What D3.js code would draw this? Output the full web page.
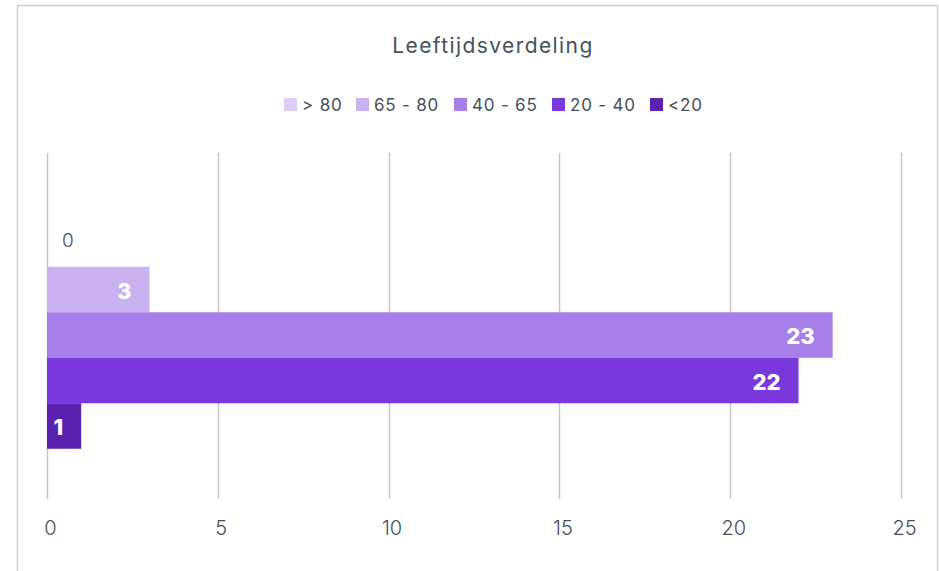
<!DOCTYPE html>
<html>
<head>
<meta charset="utf-8">
<script src="https://cdn.jsdelivr.net/npm/d3@7"></script>
<style>
  body { margin: 0; background: #fff; }
  text { font-family: Inter, "Open Sans", sans-serif; }
</style>
</head>
<body>
<svg id="chart" width="939" height="571"></svg>
<script>
// data
var title = "Leeftijdsverdeling";
var categories = ["Leeftijd"];
var series = ["> 80", "65 - 80", "40 - 65", "20 - 40", "<20"];
var values = [0, 3, 23, 22, 1];
var colors = ["#DCCEF5", "#CAB1F0", "#A77FE8", "#7838DC", "#5B22AF"];
var ticks = [0, 5, 10, 15, 20, 25];

var svg = d3.select("#chart");
var plot = {left: 47, right: 901, top: 153, bottom: 499};
var textColor = "#46505B";

// frame
svg.append("rect")
    .attr("x", 17.5).attr("y", 5.5)
    .attr("width", 920).attr("height", 620)
    .style("fill", "none")
    .style("stroke", "#D0D0D0")
    .style("stroke-width", 1.5);

var x = d3.scaleLinear().domain([0, 25]).range([plot.left, plot.right]);

var yOuter = d3.scaleBand()
    .domain(categories)
    .range([plot.top, 517])
    .paddingOuter(0.3);

var y = d3.scaleBand()
    .domain(series)
    .range([yOuter(categories[0]), yOuter(categories[0]) + yOuter.bandwidth()]);

// gridlines
svg.append("g")
    .selectAll("line")
    .data(ticks)
    .enter()
    .append("line")
    .attr("x1", function(d){ return Math.round(x(d)) + 0.5; })
    .attr("x2", function(d){ return Math.round(x(d)) + 0.5; })
    .attr("y1", plot.top)
    .attr("y2", plot.bottom)
    .style("stroke", "#C6C6C6")
    .style("stroke-width", 1.5);

// x axis labels
var xAxis = d3.axisBottom(x).tickValues(ticks).tickSize(0).tickPadding(0);
var gx = svg.append("g")
    .attr("transform", "translate(0," + 521 + ")")
    .call(xAxis);
gx.select(".domain").remove();
gx.selectAll("text")
    .attr("dx", 3)
    .style("font-size", "20px")
    .style("font-weight", 300)
    .style("font-family", "Inter, sans-serif")
    .style("fill", textColor);

var rows = series.map(function(s, i){
    return {name: s, value: values[i], color: colors[i]};
});

// bars
svg.append("g")
    .selectAll("rect")
    .data(rows)
    .enter()
    .append("rect")
    .attr("x", x(0))
    .attr("y", function(d){ return y(d.name); })
    .attr("width", function(d){ return x(d.value) - x(0); })
    .attr("height", y.bandwidth())
    .style("fill", function(d){ return d.color; });

// value labels
svg.append("g")
    .selectAll("text")
    .data(rows)
    .enter()
    .append("text")
    .attr("x", function(d){
        if(d.value === 0) return x(0) + 15;
        return x(d.value) - 18;
    })
    .attr("y", function(d){
        if(d.value === 0) return y(d.name) + y.bandwidth()/2 - 4;
        return y(d.name) + y.bandwidth()/2 + 1;
    })
    .attr("dominant-baseline", "central")
    .attr("text-anchor", function(d){ return d.value === 0 ? "start" : "end"; })
    .style("font-size", function(d){ return d.value === 0 ? "19px" : "22px"; })
    .style("font-weight", function(d){ return d.value === 0 ? 300 : 800; })
    .style("fill", function(d){ return d.value === 0 ? textColor : "#FFFFFF"; })
    .text(function(d){ return d.value; });

// title
svg.append("text")
    .attr("x", 493)
    .attr("y", 53)
    .attr("text-anchor", "middle")
    .style("font-size", "21px")
    .style("letter-spacing", "1.4px")
    .style("fill", textColor)
    .text(title);

// legend
var legendX = [284, 356, 454, 552, 650];
var legend = svg.append("g")
    .selectAll("g")
    .data(rows)
    .enter()
    .append("g")
    .attr("transform", function(d, i){ return "translate(" + legendX[i] + ",98)"; });
legend.append("rect")
    .attr("width", 13)
    .attr("height", 13)
    .style("fill", function(d){ return d.color; });
legend.append("text")
    .attr("x", 18)
    .attr("y", 7)
    .attr("dominant-baseline", "central")
    .style("font-size", "17px")
    .style("letter-spacing", "0.8px")
    .style("fill", textColor)
    .text(function(d){ return d.name; });
</script>
</body>
</html>
